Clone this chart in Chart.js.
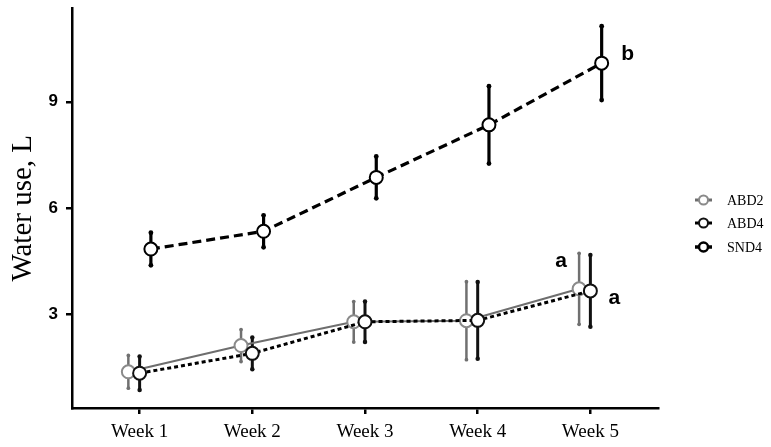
<!DOCTYPE html>
<html>
<head>
<meta charset="utf-8">
<script src="https://cdn.jsdelivr.net/npm/chart.js@4.4.1/dist/chart.umd.min.js"></script>
<style>
  html, body { margin: 0; padding: 0; background: #fff; }
  #wrap { width: 771px; height: 447px; position: relative; }
</style>
</head>
<body>
<div id="wrap"><canvas id="c"></canvas></div>
<script>
// ---- data ----
const weeks = ["Week 1", "Week 2", "Week 3", "Week 4", "Week 5"];
const yTicks = [3, 6, 9];
const abd2Mean = [1.39, 2.13, 2.80, 2.83, 3.73];
const abd2Err  = [0.46, 0.45, 0.57, 1.10, 1.00];
const abd4Mean = [1.35, 1.91, 2.80, 2.84, 3.67];
const abd4Err  = [0.47, 0.45, 0.57, 1.08, 1.01];
const snd4Mean = [4.85, 5.35, 6.87, 8.35, 10.09];
const snd4Err  = [0.46, 0.45, 0.59, 1.09, 1.04];
const seriesNames = ["ABD2", "ABD4", "SND4"];
const groupLetters = ["a", "a", "b"];

const offsets = [-0.1, 0, 0.1];
function pts(means, off) {
  return means.map((v, i) => ({ x: i + 1 + off, y: v }));
}

const styles = [
  { color: '#6e6e6e', pointBorder: '#8a8a8a', width: 2, dash: [], errColor: '#707070', errWidth: 2.5 },
  { color: '#000000', pointBorder: '#111111', width: 3, dash: [4, 3], errColor: '#111111', errWidth: 3 },
  { color: '#000000', pointBorder: '#000000', width: 3.2, dash: [9, 5], errColor: '#000000', errWidth: 3.2 }
];
const means = [abd2Mean, abd4Mean, snd4Mean];
const errs = [abd2Err, abd4Err, snd4Err];

const datasets = seriesNames.map((name, k) => ({
  label: name,
  data: pts(means[k], offsets[k]),
  errors: errs[k],
  borderColor: styles[k].color,
  borderWidth: styles[k].width,
  borderDash: styles[k].dash,
  pointRadius: 6.5,
  pointHoverRadius: 6.5,
  pointBackgroundColor: '#ffffff',
  pointBorderColor: styles[k].pointBorder,
  pointBorderWidth: 2,
  errColor: styles[k].errColor,
  errWidth: styles[k].errWidth,
  tension: 0,
  order: 3 - k
}));

// error bars drawn before datasets (so circles sit on top)
const errorBars = {
  id: 'errorBars',
  beforeDatasetsDraw(chart) {
    const { ctx, scales: { x, y } } = chart;
    ctx.save();
    chart.data.datasets.forEach(ds => {
      ctx.strokeStyle = ds.errColor;
      ctx.fillStyle = ds.errColor;
      ctx.lineWidth = ds.errWidth;
      ctx.setLineDash([]);
      ds.data.forEach((p, i) => {
        const px = x.getPixelForValue(p.x);
        const top = y.getPixelForValue(p.y + ds.errors[i]);
        const bot = y.getPixelForValue(p.y - ds.errors[i]);
        ctx.beginPath();
        ctx.moveTo(px, top);
        ctx.lineTo(px, bot);
        ctx.stroke();
        ctx.beginPath(); ctx.arc(px, top, ds.errWidth * 0.75, 0, Math.PI * 2); ctx.fill();
        ctx.beginPath(); ctx.arc(px, bot, ds.errWidth * 0.75, 0, Math.PI * 2); ctx.fill();
      });
    });
    ctx.restore();
  }
};

// significance letters, anchored to the week-5 points
const letterOffsets = [[-18, -28], [24, 7], [26, -9]];
const letters = {
  id: 'letters',
  afterDatasetsDraw(chart) {
    const { ctx, scales: { x, y } } = chart;
    ctx.save();
    ctx.font = 'bold 21px "Liberation Sans", Arial, sans-serif';
    ctx.fillStyle = '#000';
    ctx.textAlign = 'center';
    ctx.textBaseline = 'middle';
    chart.data.datasets.forEach((ds, k) => {
      const last = ds.data[ds.data.length - 1];
      const px = x.getPixelForValue(last.x) + letterOffsets[k][0];
      const py = y.getPixelForValue(last.y) + letterOffsets[k][1];
      ctx.fillText(groupLetters[k], px, py);
    });
    ctx.restore();
  }
};

// custom legend on the right
const customLegend = {
  id: 'customLegend',
  afterDraw(chart) {
    const { ctx } = chart;
    ctx.save();
    const x0 = 695, x1 = 712, tx = 727;
    const ys = [200, 223, 247];
    chart.data.datasets.forEach((ds, k) => {
      const yy = ys[k];
      ctx.strokeStyle = ds.borderColor;
      ctx.lineWidth = k === 2 ? 3.5 : 3;
      ctx.setLineDash([]);
      ctx.beginPath(); ctx.moveTo(x0, yy); ctx.lineTo(x1, yy); ctx.stroke();
      ctx.beginPath();
      ctx.arc((x0 + x1) / 2, yy, 4.5, 0, Math.PI * 2);
      ctx.fillStyle = '#fff';
      ctx.fill();
      ctx.lineWidth = k === 2 ? 2.5 : 2;
      ctx.strokeStyle = ds.pointBorderColor;
      ctx.stroke();
      ctx.fillStyle = '#000';
      ctx.font = '14px "Liberation Serif", "Times New Roman", serif';
      ctx.textBaseline = 'middle';
      ctx.textAlign = 'left';
      ctx.fillText(ds.label, tx, yy + 1);
    });
    ctx.restore();
  }
};

new Chart(document.getElementById('c'), {
  type: 'line',
  data: { datasets },
  plugins: [errorBars, letters, customLegend],
  options: {
    responsive: true,
    maintainAspectRatio: false,
    animation: false,
    events: [],
    layout: { padding: { left: 0, right: 113, top: 7, bottom: 0 } },
    plugins: { legend: { display: false }, tooltip: { enabled: false } },
    scales: {
      x: {
        type: 'linear',
        min: 0.4,
        max: 5.6,
        afterBuildTicks(scale) { scale.ticks = weeks.map((w, i) => ({ value: i + 1 })); },
        afterFit(scale) { scale.height = 39; scale.paddingLeft = 0; scale.paddingRight = 0; },
        ticks: {
          callback: (v) => weeks[v - 1] ?? '',
          color: '#000',
          font: { family: '"Liberation Serif", "Times New Roman", serif', size: 19 },
          padding: 7,
          maxRotation: 0,
          autoSkip: false
        },
        grid: { display: true, drawOnChartArea: false, drawTicks: true, tickLength: 6, color: '#000', lineWidth: 2.5 },
        border: { display: true, color: '#000', width: 2.5 }
      },
      y: {
        type: 'linear',
        min: 0.37,
        max: 11.63,
        afterBuildTicks(scale) { scale.ticks = yTicks.map(v => ({ value: v })); },
        afterFit(scale) { scale.width = 72; scale.paddingTop = 0; scale.paddingBottom = 0; },
        ticks: {
          color: '#000',
          font: { family: '"Liberation Sans", Arial, sans-serif', size: 17, weight: 'bold' },
          padding: 8
        },
        grid: { display: true, drawOnChartArea: false, drawTicks: true, tickLength: 6, color: '#000', lineWidth: 2.5 },
        border: { display: true, color: '#000', width: 2.5 },
        title: {
          display: true,
          text: 'Water use, L',
          color: '#000',
          font: { family: '"Liberation Serif", "Times New Roman", serif', size: 29 },
          padding: { top: 6, bottom: 0 }
        }
      }
    }
  }
});
</script>
</body>
</html>
